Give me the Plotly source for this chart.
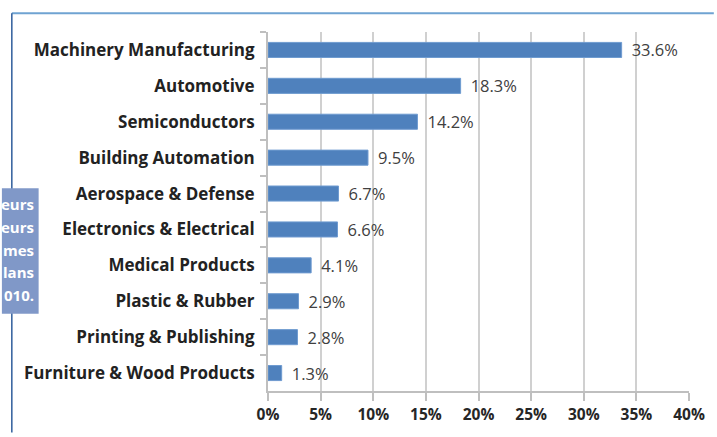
import plotly.graph_objects as go

categories = ["Machinery Manufacturing", "Automotive", "Semiconductors", "Building Automation",
              "Aerospace & Defense", "Electronics & Electrical", "Medical Products",
              "Plastic & Rubber", "Printing & Publishing", "Furniture & Wood Products"]
values = [33.6, 18.3, 14.2, 9.5, 6.7, 6.6, 4.1, 2.9, 2.8, 1.3]
side_text = ["eurs", "eurs", "mes", "lans", "010."]

W, H = 717, 437
L, R, T, B = 268, 25, 32, 42
PW, PH = W - L - R, H - T - B


def px(x):
    return (x - L) / PW


def py(y):
    return (H - B - y) / PH


fig = go.Figure(go.Bar(
    x=values, y=categories, orientation="h", width=0.42,
    marker=dict(color="#4f81bd", line=dict(color="#6f9bd0", width=1)),
    texttemplate="\u00a0\u2009%{x:.1f}%", textposition="outside", cliponaxis=False,
    constraintext="none",
    textfont=dict(family="Open Sans", size=16.5, color="#404040"),
))

fig.update_layout(
    width=W, height=H, margin=dict(l=L, r=R, t=T, b=B),
    paper_bgcolor="white", plot_bgcolor="white", showlegend=False,
    font=dict(family="Open Sans", color="#262626"),
    xaxis=dict(range=[0, 40], dtick=5, ticksuffix="%", showgrid=True,
               gridcolor="#d0d0d0", gridwidth=2, showline=True, linecolor="#bfbfbf",
               linewidth=2, ticks="outside", ticklen=8, tickcolor="#bfbfbf", tickwidth=2,
               tickfont=dict(family="Open Sans", size=15.5, color="#262626", weight="bold"),
               zeroline=False, fixedrange=True),
    yaxis=dict(autorange="reversed", showline=True, linecolor="#bfbfbf", linewidth=2,
               ticks="outside", ticklen=6, tickcolor="#bfbfbf", tickwidth=2,
               tickson="boundaries", ticklabelstandoff=8,
               tickfont=dict(family="Open Sans", size=17, color="#222222", weight="bold"),
               fixedrange=True),
)

# page frame decorations
fig.add_shape(type="line", xref="paper", yref="paper",
              x0=px(10), x1=px(717), y0=py(13), y1=py(13),
              line=dict(color="#6fa3d2", width=2))
fig.add_shape(type="line", xref="paper", yref="paper",
              x0=px(10), x1=px(10), y0=py(13), y1=py(437),
              line=dict(color="#2f5d9b", width=1.5))
fig.add_shape(type="rect", xref="paper", yref="paper",
              x0=px(0), x1=px(37), y0=py(190), y1=py(317),
              line=dict(width=0), fillcolor="#8098c8")
for i, t in enumerate(side_text):
    yy = 206 + 23 * i
    fig.add_annotation(text=t, xref="paper", yref="paper", showarrow=False,
                       x=px(34), xanchor="right", y=py(yy), yanchor="middle",
                       font=dict(family="Open Sans", size=15, color="white", weight="bold"))

fig.write_html("out.html", config={"displayModeBar": False},
               post_script="document.body.style.margin='0';document.body.style.padding='0';")
